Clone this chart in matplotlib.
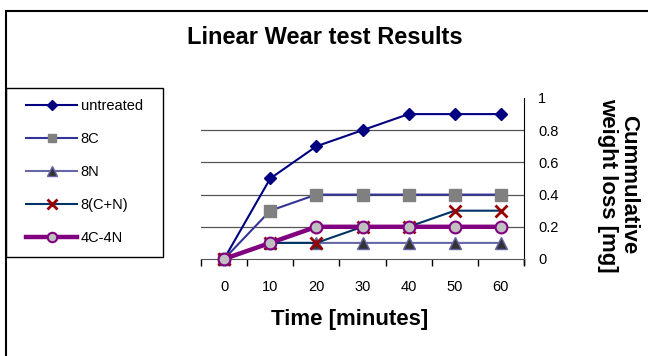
import matplotlib
matplotlib.use("Agg")
import matplotlib.pyplot as plt
from matplotlib.patches import Rectangle
from matplotlib.lines import Line2D

plt.rcParams['font.family'] = ['Liberation Sans', 'DejaVu Sans']

categories = ["0", "10", "20", "30", "40", "50", "60"]
untreated = [0, 0.5, 0.7, 0.8, 0.9, 0.9, 0.9]
c8 = [0, 0.3, 0.4, 0.4, 0.4, 0.4, 0.4]
n8 = [0, 0.1, 0.1, 0.1, 0.1, 0.1, 0.1]
cn8 = [0, 0.1, 0.1, 0.2, 0.2, 0.3, 0.3]
c4n4 = [0, 0.1, 0.2, 0.2, 0.2, 0.2, 0.2]
yticks = [0, 0.2, 0.4, 0.6, 0.8, 1]
ytick_labels = ["0", "0.2", "0.4", "0.6", "0.8", "1"]

W, H = 648, 356
fig = plt.figure(figsize=(W / 100, H / 100), dpi=100)
fig.patch.set_facecolor('white')

# outer chart frame (only top and left edges are inside the picture)
fig.add_artist(Line2D([6 / W, 6 / W, 1.1], [-0.1, 1 - 11 / H, 1 - 11 / H],
                      transform=fig.transFigure, color='black', lw=1.5,
                      solid_capstyle='butt', solid_joinstyle='miter'))

ax = fig.add_axes([201 / W, 1 - 259 / H, 323 / W, 161 / H])
x = list(range(len(categories)))

l1, = ax.plot(x, untreated, color='#000080', lw=1.5, marker='D', ms=6.5,
              mfc='#000080', mec='#000080', label='untreated', clip_on=False, zorder=3)
l2, = ax.plot(x, c8, color='#333399', lw=1.5, marker='s', ms=8,
              mfc='#808080', mec='#808080', label='8C', clip_on=False, zorder=3)
l3, = ax.plot(x, n8, color='#6666A8', lw=1.5, marker='^', ms=8.5,
              mfc='#333333', mec='#6666A8', label='8N', clip_on=False, zorder=3)
l4, = ax.plot(x, cn8, color='#003366', lw=1.5, marker='x', ms=8.5, mew=2,
              mec='#990000', label='8(C+N)', clip_on=False, zorder=3)
l5, = ax.plot(x, c4n4, color='#800080', lw=3.2, marker='o', ms=8.5, mew=1.5,
              mfc='#C0C0C0', mec='#800080', label='4C-4N', clip_on=False, zorder=3)

ax.set_xlim(-0.5, len(categories) - 0.5)
ax.set_ylim(0, 1)
ax.set_xticks(x)
ax.set_xticklabels(categories, fontsize=10.5)
ax.set_xticks([i - 0.5 for i in range(len(categories) + 1)], minor=True)
ax.tick_params(axis='x', which='major', length=0, pad=15)
ax.tick_params(axis='x', which='minor', length=5, direction='out', color='black', width=1)

ax.yaxis.tick_right()
ax.set_yticks(yticks)
ax.set_yticklabels(ytick_labels, fontsize=10.5)
ax.tick_params(axis='y', length=0, pad=10)
for yv in yticks[1:-1]:
    ax.axhline(yv, color='#555555', lw=0.9, zorder=1)

ax.spines['top'].set_visible(False)
ax.spines['left'].set_visible(False)
ax.spines['right'].set_color('black')
ax.spines['bottom'].set_color('#555555')
# the value axis line continues a little below the category axis
ax.add_line(Line2D([1, 1], [0, -5 / 161], transform=ax.transAxes, color='black',
                   lw=1, clip_on=False))

ax.set_xlabel('Time [minutes]', fontsize=16, fontweight='bold', va='center')
ax.xaxis.set_label_coords((350 - 201) / 323, (259 - 319) / 161)
ax.yaxis.set_label_position('right')
ax.set_ylabel('Cummulative\nweight loss [mg]', fontsize=16, fontweight='bold',
              rotation=270, va='center', ha='center', linespacing=1.0,
              rotation_mode='default')
ax.yaxis.set_label_coords((618.5 - 201) / 323, (259 - 185) / 161)

fig.text(325 / W, 1 - 38 / H, 'Linear Wear test Results', fontsize=17,
         fontweight='bold', ha='center', va='center')

# legend box
fig.patches.append(Rectangle((6 / W, 1 - 257 / H), 157 / W, 169 / H, transform=fig.transFigure,
                             fill=False, edgecolor='black', lw=1, figure=fig))
fig.legend(handles=[l1, l2, l3, l4, l5], loc='upper left',
           bbox_to_anchor=(26 / W, 1 - 99 / H), bbox_transform=fig.transFigure,
           frameon=False, borderpad=0, borderaxespad=0, fontsize=10.5,
           handlelength=3.5, handletextpad=0.25, labelspacing=1.3, markerscale=0.8)

fig.savefig('out.png', dpi=100)
